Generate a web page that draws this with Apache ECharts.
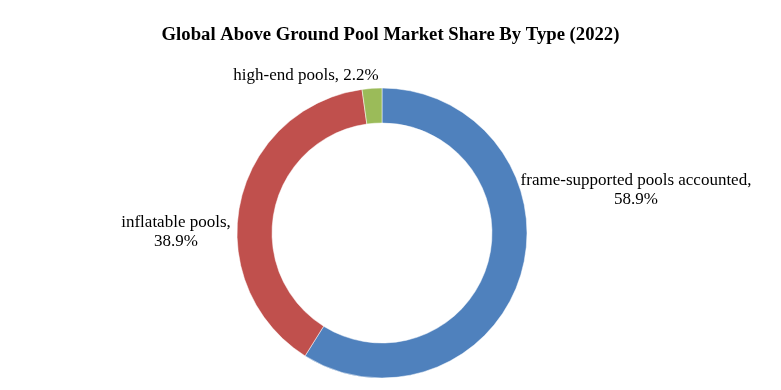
<!DOCTYPE html>
<html>
<head>
<meta charset="utf-8">
<script src="https://cdn.jsdelivr.net/npm/echarts@6/dist/echarts.min.js"></script>
<style>html,body{margin:0;padding:0;background:#fff}#c{width:781px;height:390px}</style>
</head>
<body>
<div id="c"></div>
<script>
const categories = ['frame-supported pools accounted', 'inflatable pools', 'high-end pools'];
const values = [58.9, 38.9, 2.2];
const labelTexts = ['frame-supported pools accounted,\n58.9%', 'inflatable pools,\n38.9%', 'high-end pools, 2.2%'];
const colors = ['#4F81BD', '#C0504D', '#9BBB59'];
const labelPos = [[636, 190], [176, 232], [306, 76]];

const chart = echarts.init(document.getElementById('c'));
chart.setOption({
  animation: false,
  title: {
    text: 'Global Above Ground Pool Market Share By Type (2022)',
    left: 'center', top: 21,
    textStyle: { fontFamily: 'Liberation Serif', fontWeight: 'bold', fontSize: 18.7, color: '#000' }
  },
  series: [{
    type: 'pie',
    center: [382, 233],
    radius: [110, 145],
    startAngle: 90,
    clockwise: true,
    itemStyle: { borderColor: '#fff', borderWidth: 0.5 },
    label: {
      show: true,
      fontFamily: 'Liberation Serif', fontSize: 17, color: '#000',
      lineHeight: 19, align: 'center', overflow: 'none', width: 400,
      formatter: p => labelTexts[p.dataIndex]
    },
    labelLine: { show: false },
    labelLayout: p => ({ x: labelPos[p.dataIndex][0], y: labelPos[p.dataIndex][1], align: 'center', verticalAlign: 'middle' }),
    data: categories.map((c, i) => ({ name: c, value: values[i], itemStyle: { color: colors[i] } }))
  }]
});
</script>
</body>
</html>
